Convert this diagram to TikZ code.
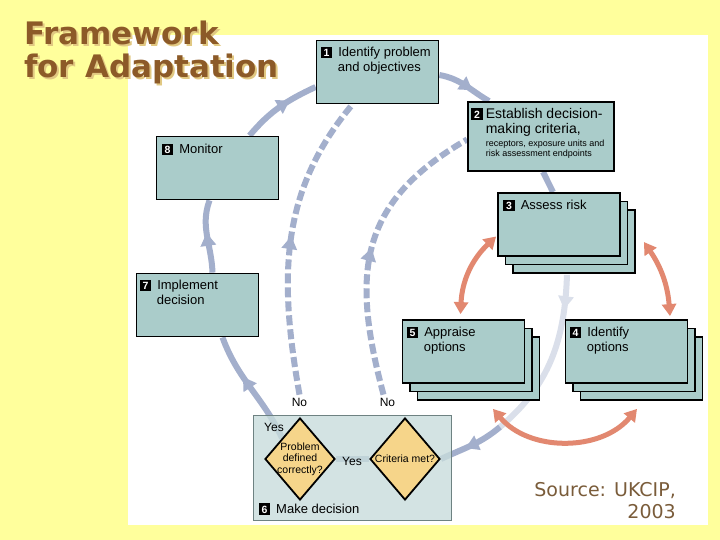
\documentclass[tikz,border=0pt]{standalone}
\usepackage{fontspec}
\setmainfont{Liberation Sans}
\newfontfamily\titlefont{DejaVu Sans}
\usetikzlibrary{
  arrows.meta,shapes.geometric,
  decorations.markings,backgrounds
}

\definecolor{bgyellow}{RGB}{255,255,156}
\definecolor{boxfill}{RGB}{170,204,202}
\definecolor{decfill}{RGB}{200,220,220}
\definecolor{decline}{RGB}{110,130,130}
\definecolor{loopblue}{RGB}{163,175,204}
\definecolor{paleblue}{RGB}{218,223,234}
\definecolor{riskred}{RGB}{226,136,112}
\definecolor{qfill}{RGB}{246,213,138}
\definecolor{titlebrown}{RGB}{140,90,40}
\definecolor{titleshade}{RGB}{225,200,130}
\definecolor{srcbrown}{RGB}{122,92,58}

\newcommand{\stepno}[1]{{\setlength{\fboxsep}{0pt}\colorbox{black}{\makebox[11.5pt]{\rule[-1.5pt]{0pt}{11.5pt}\textcolor{white}{\fontsize{10.5}{10.5}\selectfont\bfseries #1}}}}}
\newcommand{\ind}{\hspace*{17pt}}

\begin{document}
\begin{tikzpicture}[x=1pt,y=1pt,
  stepbox/.style={draw=black,line width=1.8pt,fill=boxfill,minimum width=122pt,minimum height=63pt,inner sep=0pt},
  steptext/.style={anchor=north west,inner sep=0pt,align=left,font=\fontsize{13}{14.5}\selectfont},
  question/.style={diamond,draw=black,line width=1.8pt,fill=qfill,minimum width=70pt,minimum height=82pt,inner sep=0pt},
  qtext/.style={inner sep=0pt,align=center,font=\fontsize{10.5}{11.5}\selectfont},
  answer/.style={inner sep=0pt,font=\fontsize{12}{12}\selectfont},
  flowline/.style={draw=loopblue,line width=6pt},
  backline/.style={flowline,dash pattern=on 10pt off 4pt},
  riskline/.style={draw=riskred,line width=5pt,{Triangle[width=14pt,length=12pt]}-{Triangle[width=14pt,length=12pt]}},
  midtip/.style={postaction={decorate},decoration={markings,mark=at position #1 with {\arrow{Triangle[width=15pt,length=13pt]}}}}
]
\useasboundingbox (0,0) rectangle (720,540);

% title and source
\node[anchor=north west,inner sep=0pt,align=left,text=titleshade,font=\titlefont\bfseries\fontsize{31}{33.5}\selectfont] (titleshadow) at (26,517.5) {Framework\\for Adaptation};
\node[anchor=north west,inner sep=0pt,align=left,text=titlebrown,font=\titlefont\bfseries\fontsize{31}{33.5}\selectfont] (title) at (24,519.3) {Framework\\for Adaptation};
\node[anchor=north east,inner sep=0pt,align=right,text=srcbrown,font=\titlefont\fontsize{19}{22}\selectfont] (src) at (676,57.5) {Source: UKCIP,\\2003};

% steps
\node[stepbox] (b1) at (377.5,468) {};
\node[stepbox,minimum width=146pt,minimum height=69pt] (b2) at (541,403.5) {};
\node[stepbox] (b8) at (217.5,372) {};
\node[stepbox] (b7) at (197.5,235) {};
\node[stepbox] (b3c) at (574,298.5) {};
\node[stepbox] (b3b) at (566.5,307) {};
\node[stepbox] (b3) at (559,315.5) {};
\node[stepbox] (b5c) at (478.5,171.5) {};
\node[stepbox] (b5b) at (471,180) {};
\node[stepbox] (b5) at (463.5,188.5) {};
\node[stepbox] (b4c) at (641.5,171.5) {};
\node[stepbox] (b4b) at (634,180) {};
\node[stepbox] (b4) at (626.5,188.5) {};

\node[steptext] (t1) at ([shift={(5,-7)}]b1.north west) {\stepno{1}\hspace{6pt}Identify problem\\\ind and objectives};
\node[steptext,font=\fontsize{14}{15}\selectfont] (t2) at ([shift={(4,-7)}]b2.north west) {\stepno{2}\hspace{3pt}Establish decision-\\\hspace*{14.5pt}making criteria,\\[-2pt]\hspace*{14.5pt}{\fontsize{9}{10}\selectfont receptors, exposure units and}\\[-5pt]\hspace*{14.5pt}{\fontsize{9}{10}\selectfont risk assessment endpoints}};
\node[steptext] (t8) at ([shift={(6,-8)}]b8.north west) {\stepno{8}\hspace{6pt}Monitor};
\node[steptext] (t7) at ([shift={(4,-7)}]b7.north west) {\stepno{7}\hspace{6pt}Implement\\\ind decision};
\node[steptext] (t3) at ([shift={(6,-7.5)}]b3.north west) {\stepno{3}\hspace{6pt}Assess risk};
\node[steptext] (t5) at ([shift={(5,-7.5)}]b5.north west) {\stepno{5}\hspace{6pt}Appraise\\\ind options};
\node[steptext] (t4) at ([shift={(5,-7.5)}]b4.north west) {\stepno{4}\hspace{6pt}Identify\\\ind options};

% make decision
\node[draw=decline,line width=1pt,fill=decfill,fill opacity=0.8,minimum width=198pt,minimum height=105pt] (b6) at (352,71.5) {};
\node[steptext,anchor=base west] (t6) at ([shift={(6,8)}]b6.south west) {\stepno{6}\hspace{6pt}Make decision};
\node[question] (d1) at (300,81) {};
\node[qtext] (q1) at (d1) {Problem\\defined\\correctly?};
\node[question] (d2) at (405,81) {};
\node[qtext] (q2) at (d2) {Criteria met?};
\node[answer] (yes1) at (274,113) {Yes};
\node[answer] (yes2) at (352,79) {Yes};
\node[answer] (no1) at (299.5,138) {No};
\node[answer] (no2) at (387.5,138) {No};
\coordinate (fade) at (500,113);

\begin{scope}[on background layer]
\fill[bgyellow] (0,0) rectangle (720,540);
\fill[white] (128,15) rectangle (708,505);

% main cycle
\draw[flowline,midtip=0.62] (d1.north west) to[out=115,in=-70] ([xshift=25]b7.south);
\draw[flowline,midtip=0.55] ([xshift=15]b7.north) to[out=92,in=-110] ([xshift=-8]b8.south);
\draw[flowline,midtip=0.65] ([xshift=32]b8.north) to[out=50,in=-155] ([yshift=-15]b1.west);
\draw[flowline,midtip=0.65] ([yshift=-3]b1.east) to[out=-10,in=150] ([xshift=-52]b2.north);
\draw[flowline] ([xshift=2]b2.south) -- ([xshift=-6]b3.north);
\draw[flowline,draw=paleblue,midtip=0.2] ([shift={(8,-18)}]b3.south) to[out=-92,in=40] (fade);
\draw[flowline,midtip=0.6] (fade) to[out=-140,in=25] (d2.east);
\draw[flowline] (d2.west) -- (d1.east);

% going back
\draw[backline,midtip=0.52] ([yshift=3]no1.north) to[out=100,in=-130] ([xshift=-25]b1.south);
\draw[backline,midtip=0.5] ([shift={(-4,3)}]no2.north) to[out=105,in=-150,looseness=1.2] ([yshift=-3]b2.west);

% risk options
\draw[riskline] ([shift={(-3,5)}]b5.north) to[bend left=22] ([shift={(-1,-12)}]b3.west);
\draw[riskline] ([shift={(23,-17.5)}]b3.east) to[bend left=15] ([shift={(43.5,3)}]b4.north);
\draw[riskline] ([shift={(29.5,-25)}]b5.south) to[bend right=50] ([shift={(10.5,-25)}]b4.south);
\end{scope}
\end{tikzpicture}
\end{document}
